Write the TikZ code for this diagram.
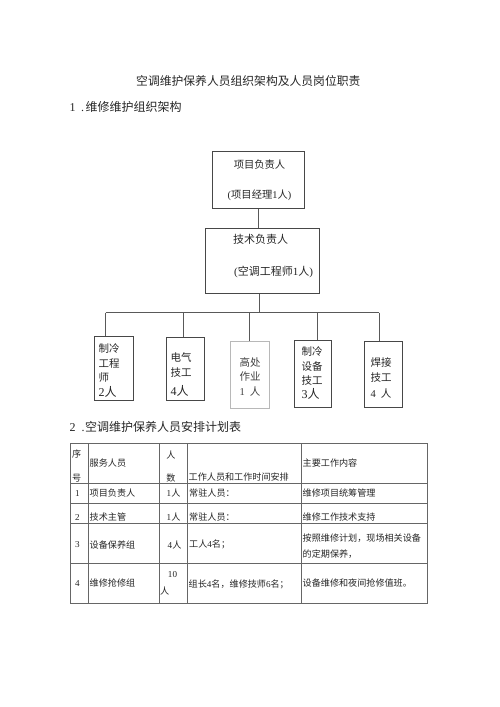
\documentclass[tikz,border=0pt]{standalone}
\usepackage{fontspec}
\setmainfont{Liberation Serif}
\newfontfamily\cjk{Noto Sans CJK SC}
\newfontfamily\latinf{Liberation Serif}
\newcommand\dg[1]{{\latinf #1}}
\begin{document}
\begin{tikzpicture}[x=1pt,y=-1pt,
  orgbox/.style={draw=black!72, line width=0.9pt, inner sep=0pt},
  greybox/.style={draw=black!28, line width=0.9pt, inner sep=0pt},
  conn/.style={draw=black!65, line width=0.8pt},
  tbl/.style={draw=black!60, line width=0.8pt},
  txt/.style={inner sep=0pt, text=black!85, font=\cjk\fontsize{9.1}{11}\selectfont},
  head/.style={inner sep=0pt, text=black!85, font=\cjk\fontsize{12}{14}\selectfont, anchor=west},
  boxtxt/.style={inner sep=0pt, text=black!85, align=left, anchor=west}
]
\useasboundingbox[fill=white] (0,0) rectangle (500,707);

% title and headings
\node[inner sep=0pt, text=black!85, font=\cjk\fontsize{11.8}{14}\selectfont] (title) at (248.3,80.7) {空调维护保养人员组织架构及人员岗位职责};
\node[head] (h1) at (69.5,106.7) {\dg{1}\hspace{5.5pt}\dg{.}\hspace{1.5pt}维修维护组织架构};
\node[head] (h2) at (69.5,426.7) {\dg{2}\hspace{6pt}\dg{.}\hspace{0.5pt}空调维护保养人员安排计划表};

% org chart boxes
\node[orgbox, minimum width=91.3pt, minimum height=56.6pt] (b1) at (258.3,180) {};
\node[orgbox, minimum width=114.4pt, minimum height=65pt] (b2) at (262.5,260.8) {};
\node[orgbox, minimum width=39.2pt, minimum height=64.5pt] (bA) at (114.1,368.2) {};
\node[orgbox, minimum width=38.2pt, minimum height=62.7pt] (bB) at (185.4,368.7) {};
\node[greybox, minimum width=38.3pt, minimum height=67pt] (bC) at (249.9,374.5) {};
\node[orgbox, minimum width=37.4pt, minimum height=67.7pt] (bD) at (313,373.9) {};
\node[orgbox, minimum width=38.7pt, minimum height=65.8pt] (bE) at (383.3,374.4) {};

% box texts
\node[inner sep=0pt, text=black!85, align=center, font=\cjk\fontsize{10.3}{29.3}\selectfont] (t1) at (259.5,180.3) {项目负责人\\\dg{(}项目经理\dg{1}人\dg{)}};
\node[boxtxt, font=\cjk\fontsize{11}{31.7}\selectfont] (t2) at (233,255.9) {技术负责人\\\hspace{1pt}\dg{(}空调工程师\dg{1}人\dg{)}};
\node[boxtxt, font=\cjk\fontsize{10.5}{14.8}\selectfont] (tA) at (98.3,370.5) {制冷\\工程\\师\\{\fontsize{12}{14.8}\selectfont\dg{2}人}};
\node[boxtxt, font=\cjk\fontsize{10.5}{15}\selectfont] (tB) at (170.5,374.5) {电气\\技工\\[4pt]{\fontsize{12}{15}\selectfont\dg{4}人}};
\node[boxtxt, text=black!75, font=\cjk\fontsize{10.5}{14.5}\selectfont] (tC) at (239.3,376.7) {高处\\作业\\\dg{1}\hspace{5pt}人};
\node[boxtxt, font=\cjk\fontsize{10.5}{14.2}\selectfont] (tD) at (301.5,373.2) {制冷\\设备\\技工\\{\fontsize{12}{14.2}\selectfont\dg{3}人}};
\node[boxtxt, font=\cjk\fontsize{10.5}{15.5}\selectfont] (tE) at (370.5,377.5) {焊接\\技工\\\dg{4}\hspace{5pt}人};

% connectors
\draw[conn] (b1.south) -- (b1.south |- b2.north);
\coordinate (busT) at (259,312.5);
\coordinate (jA) at (105.5,312.5);
\coordinate (jB) at (183,312.5);
\coordinate (jC) at (249,312.5);
\coordinate (jD) at (317,312.5);
\coordinate (jE) at (379.3,312.5);
\draw[conn] (busT |- b2.south) -- (busT);
\draw[conn] (jA) -- (jE);
\draw[conn] (jA) -- (jA |- bA.north);
\draw[conn] (jB) -- (jB |- bB.north);
\draw[conn] (jC) -- (jC |- bC.north);
\draw[conn] (jD) -- (jD |- bD.north);
\draw[conn] (jE) -- (jE |- bE.north);

% table grid
\draw[tbl] (70,443) rectangle (427.5,603.2);
\foreach \yy in {483.5,503.5,523.5,563.8} \draw[tbl] (70,\yy) -- (427.5,\yy);
\foreach \xx in {88.3,159.5,187.5,301.7} \draw[tbl] (\xx,443) -- (\xx,603.2);

% table header
\node[txt] (c11) at (76.7,454.2) {序};
\node[txt] (c11b) at (76.7,478.2) {号};
\node[txt, anchor=west] (c12) at (89.5,463.5) {服务人员};
\node[txt] (c13) at (171,455.5) {人};
\node[txt] (c13b) at (171,478.2) {数};
\node[txt, anchor=west] (c14) at (188.5,477) {工作人员和工作时间安排};
\node[txt, anchor=west] (c15) at (302.5,463.5) {主要工作内容};

% row 1
\node[txt] (r1a) at (77.5,493) {\dg{1}};
\node[txt, anchor=west] (r1b) at (89.5,493) {项目负责人};
\node[txt, anchor=west] (r1c) at (166.5,493) {\dg{1}人};
\node[txt, anchor=west] (r1d) at (189,493) {常驻人员：};
\node[txt, anchor=west] (r1e) at (302.5,493) {维修项目统筹管理};

% row 2
\node[txt] (r2a) at (77.5,517.3) {\dg{2}};
\node[txt, anchor=west] (r2b) at (89.5,517.3) {技术主管};
\node[txt, anchor=west] (r2c) at (166.5,517.3) {\dg{1}人};
\node[txt, anchor=west] (r2d) at (189,517.3) {常驻人员：};
\node[txt, anchor=west] (r2e) at (302.5,517.3) {维修工作技术支持};

% row 3
\node[txt] (r3a) at (77.5,545) {\dg{3}};
\node[txt, anchor=west] (r3b) at (89.5,544.7) {设备保养组};
\node[txt, anchor=west] (r3c) at (167.5,544.7) {\dg{4}人};
\node[txt, anchor=west] (r3d) at (189,544.7) {工人\dg{4}名；};
\node[txt, anchor=west] (r3e) at (302.5,538) {按照维修计划，现场相关设备};
\node[txt, anchor=west] (r3f) at (302.5,554.5) {的定期保养，};

% row 4
\node[txt] (r4a) at (77.5,583.5) {\dg{4}};
\node[txt, anchor=west] (r4b) at (89.5,583.5) {维修抢修组};
\node[txt] (r4c) at (172.5,575) {\dg{10}};
\node[txt, anchor=west] (r4c2) at (160,591) {人};
\node[txt, anchor=west] (r4d) at (188.5,584) {组长\dg{4}名，维修技师\dg{6}名；};
\node[txt, anchor=west] (r4e) at (302.5,583) {设备维修和夜间抢修值班。};
\end{tikzpicture}
\end{document}
